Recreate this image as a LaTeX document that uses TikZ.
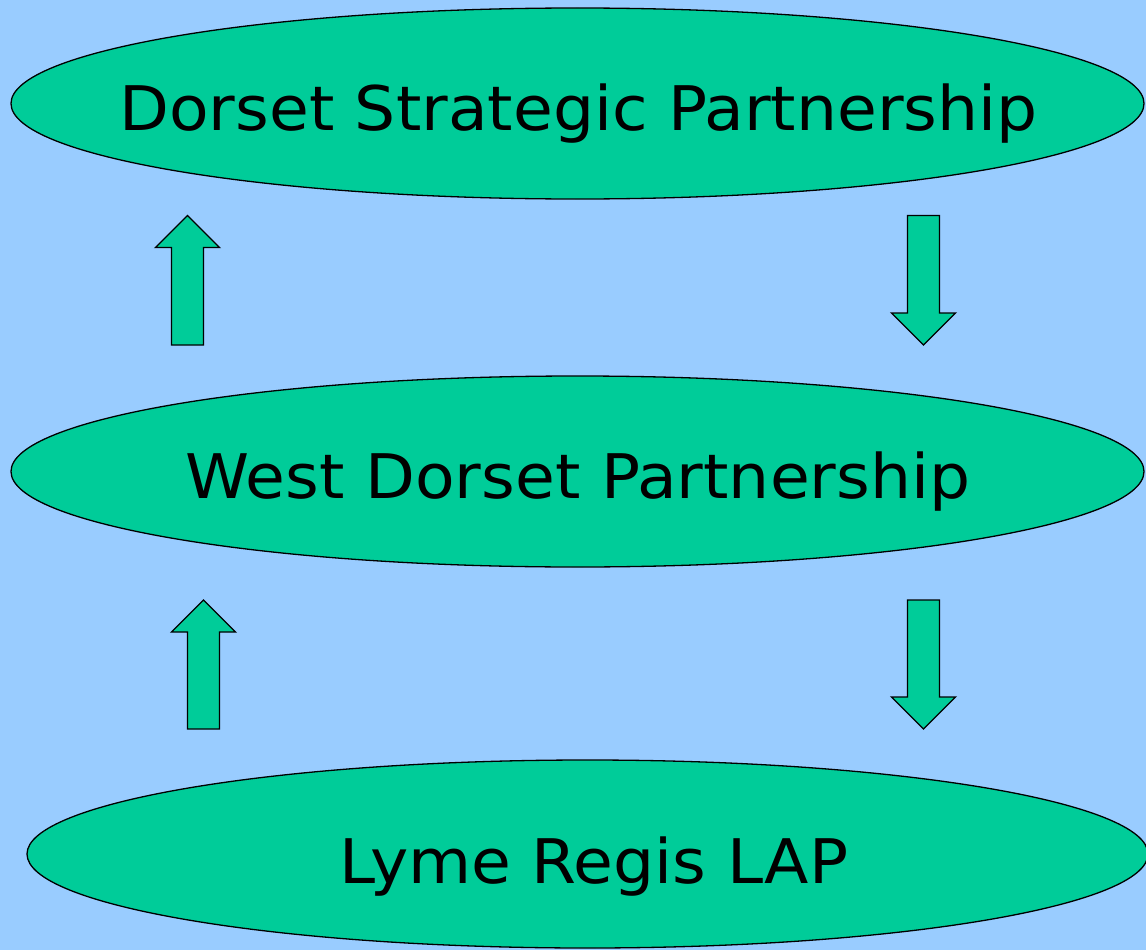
\documentclass[tikz,border=0pt]{standalone}
\usepackage{fontspec}
\setmainfont{DejaVu Sans}
\definecolor{bg}{HTML}{99CCFF}
\definecolor{fillg}{HTML}{00CC99}
\begin{document}
\begin{tikzpicture}[x=1pt,y=-1pt,
  oval/.style={draw=black,line width=1.3pt,fill=fillg},
  blockarrow/.style={draw=black,line width=1.3pt,fill=fillg,line join=miter},
  lbl/.style={anchor=base,inner sep=0pt,xscale=1.053,font=\fontsize{61.5}{70}\selectfont}]
\useasboundingbox (0,0) rectangle (1146,950);
\fill[bg] (0,0) rectangle (1146,950);
\begin{scope}
\clip (0,0) rectangle (1146,950);
\draw[oval] (577.5,103.5) ellipse [x radius=566.5, y radius=95.5];
\draw[oval] (577.5,471.5) ellipse [x radius=566.5, y radius=95.5];
\draw[oval] (587.5,854) ellipse [x radius=560.5, y radius=94];
\end{scope}
\node[lbl] (dsp) at (578.5,130) {Dorset Strategic Partnership};
\node[lbl] (wdp) at (578,498) {West Dorset Partnership};
\node[lbl] (lr) at (594,883) {Lyme Regis LAP};
% up arrow 1
\draw[blockarrow] (171.5,345) -- (171.5,247.5) -- (155.5,247.5) -- (187.5,215.5) -- (219.5,247.5) -- (203.5,247.5) -- (203.5,345) -- cycle;
% down arrow 1
\draw[blockarrow] (907.5,215.5) -- (907.5,313) -- (891.5,313) -- (923.5,345) -- (955.5,313) -- (939.5,313) -- (939.5,215.5) -- cycle;
% up arrow 2
\draw[blockarrow] (187.5,729) -- (187.5,632) -- (171.5,632) -- (203.5,600) -- (235.5,632) -- (219.5,632) -- (219.5,729) -- cycle;
% down arrow 2
\draw[blockarrow] (907.5,600) -- (907.5,697) -- (891.5,697) -- (923.5,729) -- (955.5,697) -- (939.5,697) -- (939.5,600) -- cycle;
\end{tikzpicture}
\end{document}
